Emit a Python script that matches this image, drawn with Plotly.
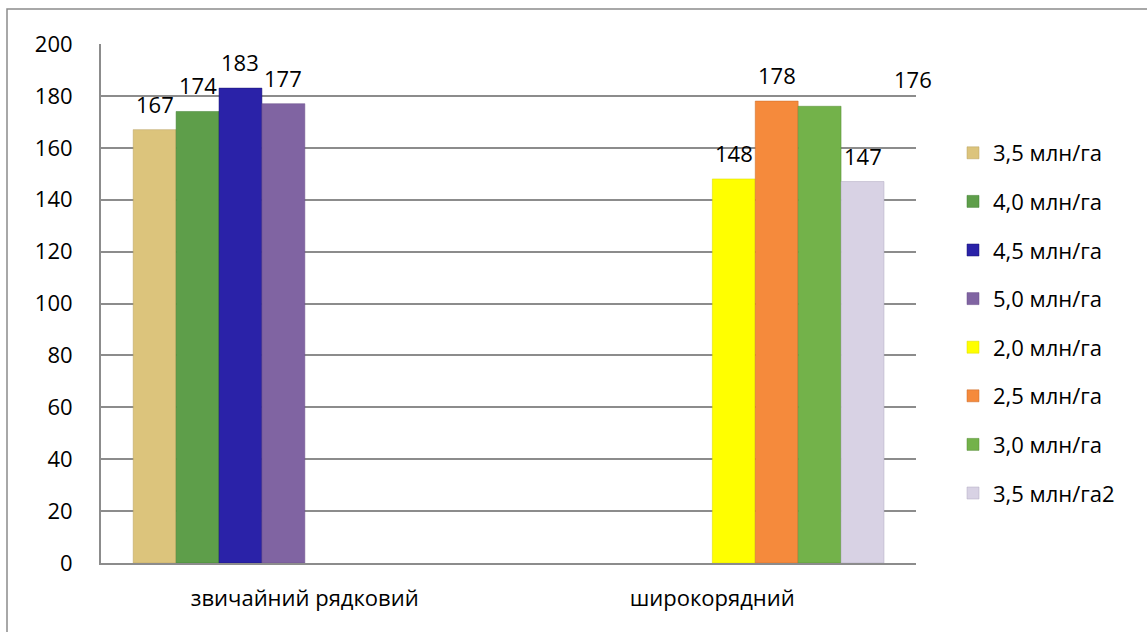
import plotly.graph_objects as go

categories = ["звичайний рядковий", "широкорядний"]
series_names = ["3,5 млн/га", "4,0 млн/га", "4,5 млн/га", "5,0 млн/га",
                "2,0 млн/га", "2,5 млн/га", "3,0 млн/га", "3,5 млн/га2"]
s1 = [167, None]
s2 = [174, None]
s3 = [183, None]
s4 = [177, None]
s5 = [None, 148]
s6 = [None, 178]
s7 = [None, 176]
s8 = [None, 147]
series_values = [s1, s2, s3, s4, s5, s6, s7, s8]
y_ticks = [0, 20, 40, 60, 80, 100, 120, 140, 160, 180, 200]

colors = ["#dcc47c", "#5e9e4a", "#2a22a8", "#8064a2",
          "#ffff00", "#f58a3c", "#73b24a", "#d8d2e4"]
line_colors = ["#b8a060", "#3e7e30", "#1a1570", "#6a4f8a",
               "#d8d800", "#c86a28", "#558a35", "#b0aac0"]

FONT = "Open Sans"
fs = 22
bw = 0.1053
start = -0.421

fig = go.Figure()
xs = [0, 1]
annotations = []
for i, (name, vals) in enumerate(zip(series_names, series_values)):
    off = start + i * bw
    fig.add_trace(go.Bar(
        x=xs, y=vals, name=name, width=bw, offset=off,
        marker=dict(color=colors[i], line=dict(color=line_colors[i], width=0.5)),
        legendgroup=f"g{i}",
    ))
    for xi, v in zip(xs, vals):
        if v is None:
            continue
        xshift, yshift = 0, 26
        if name == "3,0 млн/га":
            xshift, yshift = 93, 27
        annotations.append(dict(
            x=xi + off + bw / 2, y=v, xref="x", yref="y", text=str(v),
            showarrow=False, xanchor="center", yanchor="middle",
            xshift=xshift, yshift=yshift,
            font=dict(family=FONT, size=fs, color="#000000"),
        ))

# outer frame
W, H = 1147, 632
ml, mr, mt, mb = 101, 231, 44, 69
pw, ph = W - ml - mr, H - mt - mb
def px(x):
    return (x - ml) / pw
def py(y):
    return (H - mb - y) / ph

fig.add_shape(type="rect", xref="paper", yref="paper",
              x0=px(7), x1=px(1160), y0=py(645), y1=py(9),
              line=dict(color="#8c8c8c", width=1.5), fillcolor="rgba(0,0,0,0)",
              layer="below")

fig.update_layout(
    width=W, height=H,
    margin=dict(l=ml, r=mr, t=mt, b=mb, pad=0),
    paper_bgcolor="white", plot_bgcolor="white",
    barmode="overlay",
    font=dict(family=FONT, size=fs, color="#000000"),
    annotations=annotations,
    showlegend=True,
    legend=dict(
        x=px(953), y=py(132), xanchor="left", yanchor="top",
        traceorder="grouped", tracegroupgap=17,
        font=dict(family=FONT, size=fs, color="#000000"),
        bgcolor="rgba(0,0,0,0)", itemclick=False,
    ),
    xaxis=dict(
        range=[-0.5, 1.5], tickmode="array", tickvals=xs, ticktext=categories,
        showgrid=False, zeroline=False,
        showline=True, linecolor="#8c8c8c", linewidth=2,
        ticks="outside", ticklen=15, tickcolor="rgba(0,0,0,0)",
        tickfont=dict(family=FONT, size=fs),
        fixedrange=True,
    ),
    yaxis=dict(
        range=[0, 200], tickmode="array", tickvals=y_ticks,
        ticktext=[str(t) for t in y_ticks],
        showgrid=True, gridcolor="#8c8c8c", gridwidth=2,
        zeroline=False,
        showline=True, linecolor="#8c8c8c", linewidth=2,
        ticks="outside", ticklen=22, tickcolor="rgba(0,0,0,0)",
        tickfont=dict(family=FONT, size=fs),
        fixedrange=True,
    ),
)

fig.write_html("out.html")
